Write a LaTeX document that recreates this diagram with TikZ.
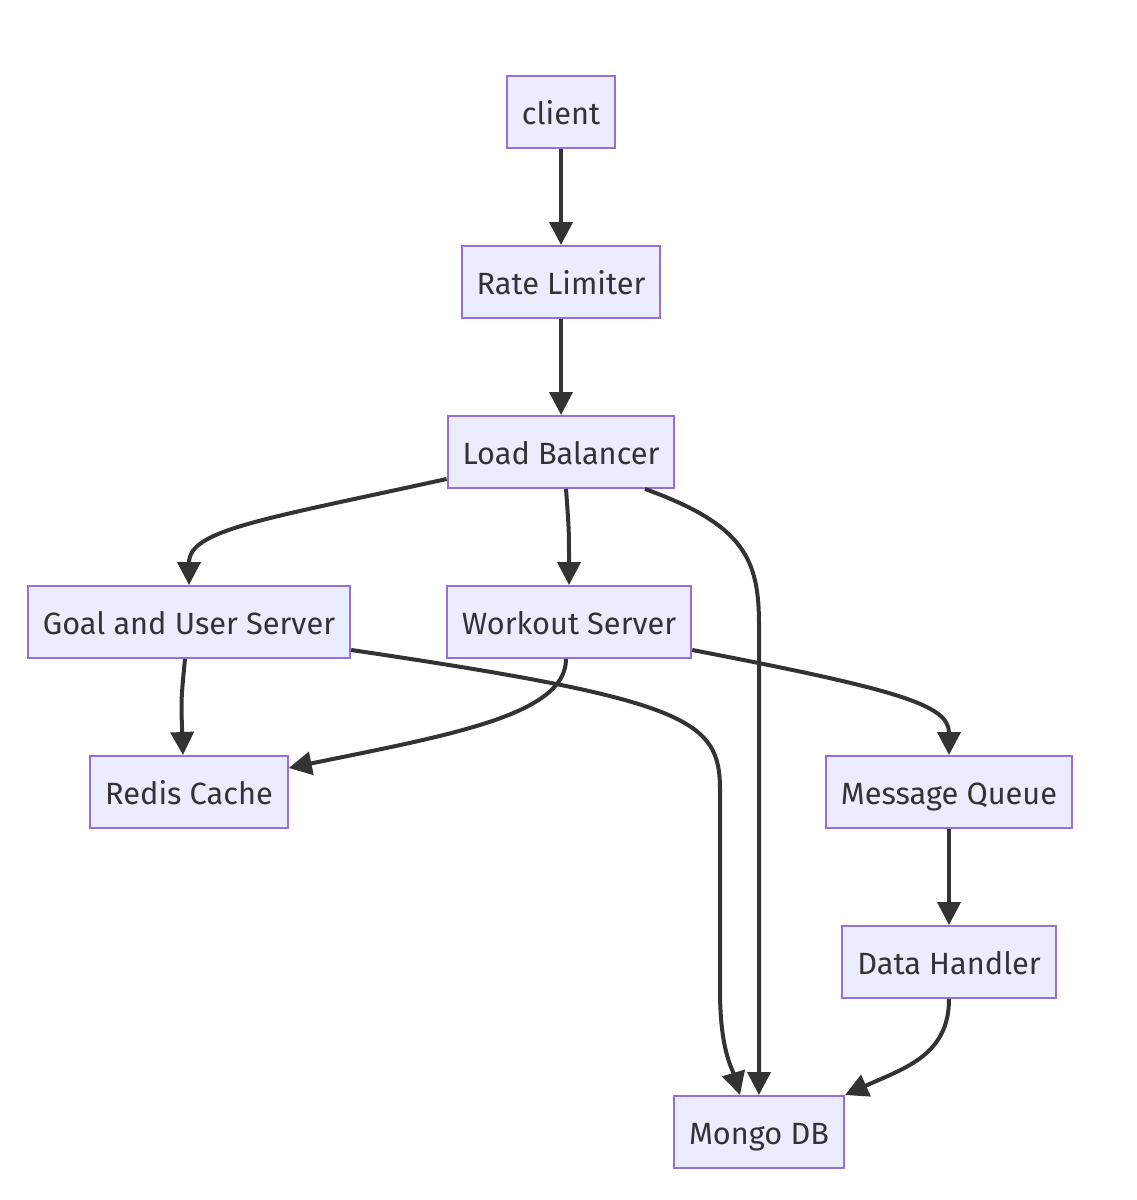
\documentclass[tikz,border=0pt]{standalone}
\usepackage{fontspec}
\setmainfont{Fira Sans}
\usetikzlibrary{positioning, arrows.meta, calc}
\definecolor{mmfill}{HTML}{ECECFF}
\definecolor{mmline}{HTML}{9370DB}
\definecolor{mmdark}{HTML}{333333}

\begin{document}
\begin{tikzpicture}[x=0.02cm, y=-0.02cm,
        box/.style={draw=mmline, fill=mmfill, text=mmdark, line width=0.04cm, font=\fontsize{17.5}{21}\selectfont,
          minimum height=1.44cm, inner xsep=0.3cm, text height=0.5cm, text depth=0cm},
        link/.style={draw=mmdark, line width=0.08cm, -{Triangle[length=0.46cm, width=0.46cm]}}]
      \useasboundingbox[fill=white] (0,0) rectangle (1136,1200);
      \node[box] (client) at (561,112) {client};
      \node[box] (rate) at (561,282) {Rate Limiter};
      \node[box] (lb) at (561,452) {Load Balancer};
      \node[box] (goal) at (189,622) {Goal and User Server};
      \node[box] (workout) at (569,622) {Workout Server};
      \node[box] (redis) at (189,792) {Redis Cache};
      \node[box] (mq) at (949,792) {Message Queue};
      \node[box] (dh) at (949,962) {Data Handler};
      \node[box] (mongo) at (759,1132) {Mongo DB};

      \draw[link] (client) -- (rate);
      \draw[link] (rate) -- (lb);
      \draw[link] ($(lb.south west)+(0,-10)$) .. controls (260,520) and (189,530) .. (goal.north);
      \draw[link] ($(lb.south)+(5,0)$) .. controls (569,530) .. (workout.north);
      \draw[link] ($(lb.south)+(84,0)$) .. controls (745,525) and (759,560) .. (759,625) -- (mongo.north);
      \draw[link] ($(goal.south)+(-4,0)$) .. controls (181,700) .. ($(redis.north)+(-6,0)$);
      \draw[link] ($(goal.south east)+(0,-9)$) .. controls (690,700) and (720,720) .. (720,790)
        -- (720,990) .. controls (720,1050) and (732,1068) .. ($(mongo.north)+(-19,0)$);
      \draw[link] ($(workout.south)+(-3,0)$) .. controls (566,715) and (450,735) .. ($(redis.east)+(0,-24)$);
      \draw[link] ($(workout.south east)+(0,-9)$) .. controls (900,690) and (949,705) .. (mq.north);
      \draw[link] (mq) -- (dh);
      \draw[link] (dh.south) .. controls (949,1055) and (905,1068) .. (mongo.north east);
    \end{tikzpicture}
\end{document}
